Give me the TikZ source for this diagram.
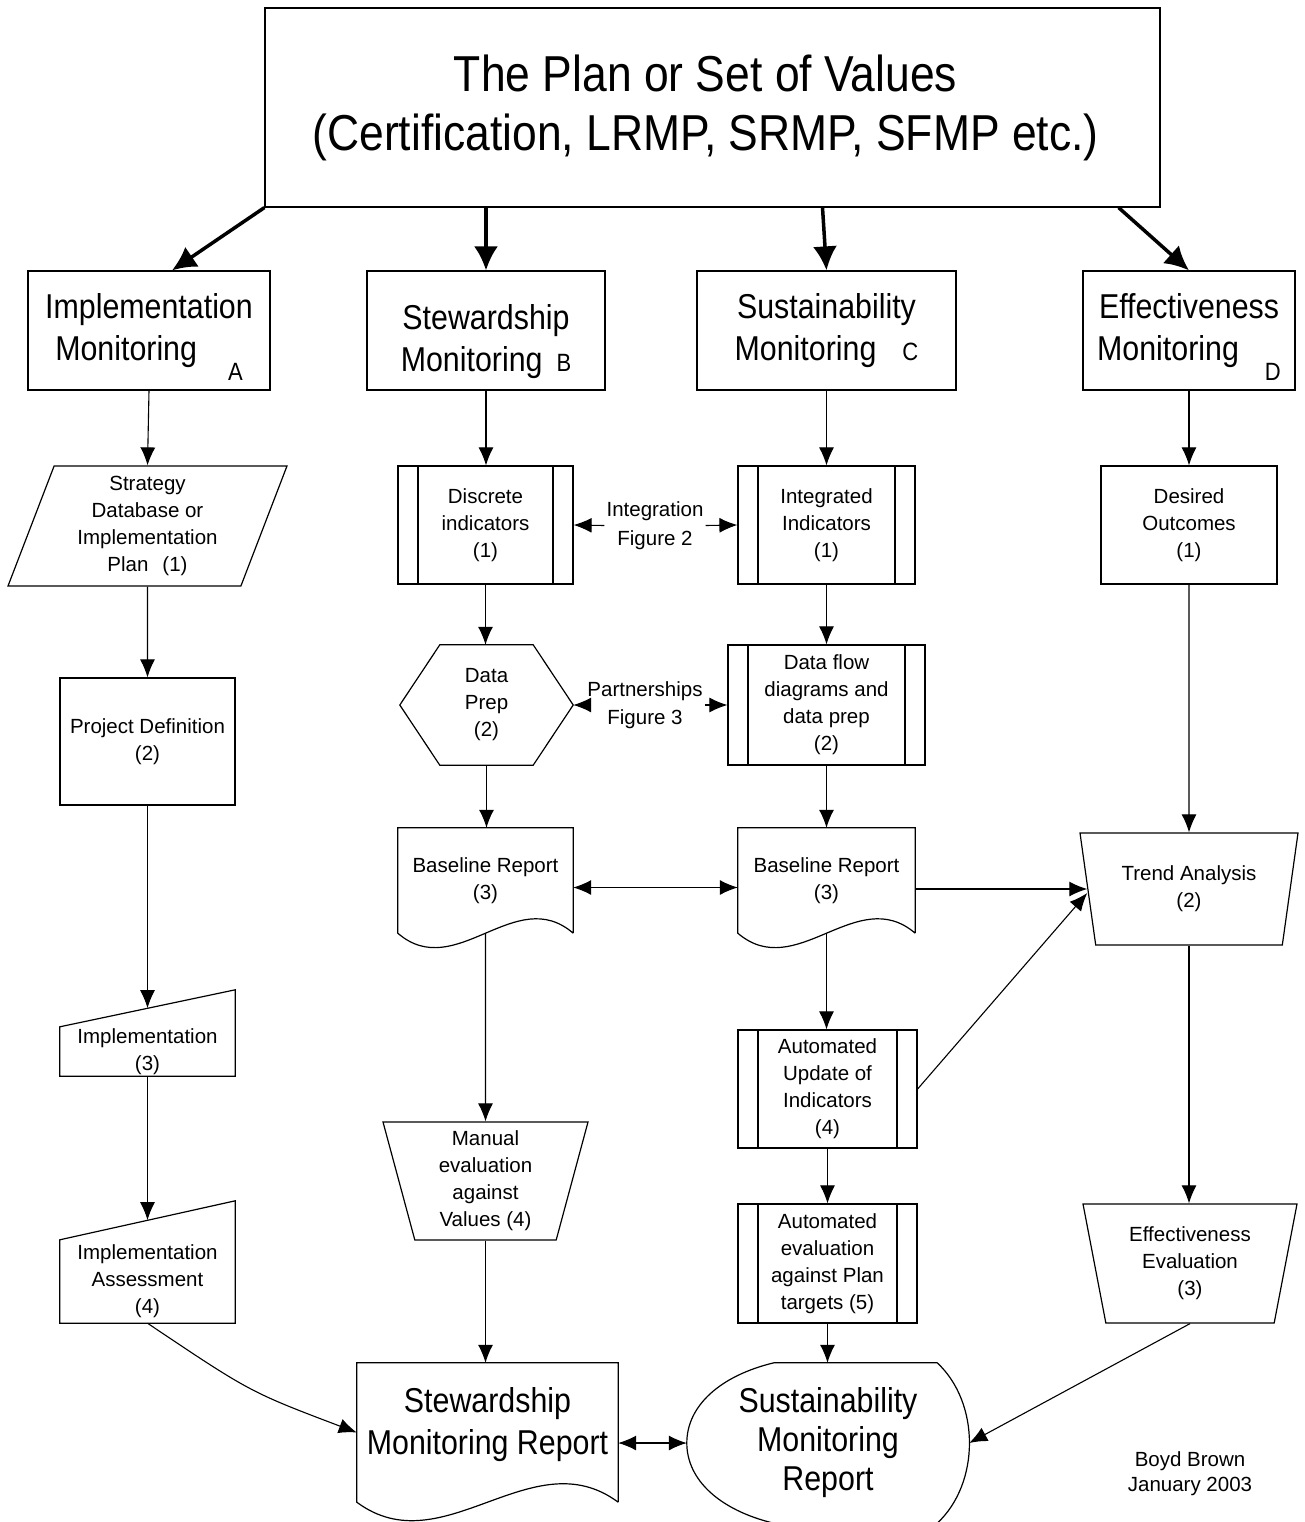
\documentclass[tikz,border=0pt]{standalone}
\usepackage{fontspec}
\setmainfont{Liberation Sans}
\newfontfamily\narrowfont{Liberation Sans}[FakeStretch=0.88]
\usetikzlibrary{arrows.meta,shapes.geometric,calc,positioning}
\newcommand{\smalltxt}{\fontsize{20.5}{27}\selectfont}
\newcommand{\headtxt}{\narrowfont\fontsize{34.5}{42}\selectfont}
\newcommand{\titletxt}{\narrowfont\fontsize{50.5}{59}\selectfont}
\newcommand{\tagtxt}{\narrowfont\fontsize{25}{25}\selectfont}
% document symbol with a wavy bottom edge
\newcommand{\docoutline}[2]{\draw[outl] (#1.south east) -- (#1.north east) -- (#1.north west) -- (#1.south west)
  .. controls ($(#1.south west)!0.33!(#1.south east)+(0,#2)$) and ($(#1.south west)!0.67!(#1.south east)+(0,-#2)$) .. (#1.south east);}
% manual input symbol, top edge rising to the right
\newcommand{\manualin}[2]{\draw[outl] (#1.south west) -- (#1.north west) -- ([yshift=#2]#1.north east) -- (#1.south east) -- cycle;}
\tikzset{
  outl/.style={line width=1.2pt,line join=miter},
  conn/.style={line width=1.1pt,-{Latex[length=18pt,width=15pt]}},
  dblconn/.style={line width=1.1pt,{Latex[length=18pt,width=15pt]}-{Latex[length=18pt,width=15pt]}},
  bigconn/.style={line width=3.5pt,-{Latex[length=24pt,width=24pt]}},
  box/.style={draw,outl,align=center,font=\smalltxt,inner sep=2pt},
  headbox/.style={draw,outl,align=center,font=\headtxt,minimum height=119},
  predef/.style={box,path picture={
      \draw[outl] ([xshift=20pt]path picture bounding box.north west) -- ([xshift=20pt]path picture bounding box.south west);
      \draw[outl] ([xshift=-20pt]path picture bounding box.north east) -- ([xshift=-20pt]path picture bounding box.south east);}},
  manop/.style={box,trapezium,shape border rotate=180,trapezium stretches body},
  bare/.style={align=center,font=\smalltxt,inner sep=0pt},
}
\begin{document}
\begin{tikzpicture}[x=1pt,y=-1pt]
\clip (0,0) rectangle (1305,1522);
\fill[white] (0,0) rectangle (1305,1522);

% top
\node[draw,outl,align=center,font=\titletxt,minimum width=895,minimum height=199] (plan) at (712.5,107.5)
  {The Plan or Set of Values\hspace*{14pt}\\(Certification, LRMP, SRMP, SFMP etc.)\hspace*{14pt}};

% the four kinds of monitoring
\node[headbox,minimum width=242] (implmon) at (149,330.5)
  {Implementation\\Monitoring\hspace{31pt}\raisebox{-20pt}[0pt][0pt]{\tagtxt A}};
\node[headbox,minimum width=238] (stewmon) at (486,330.5)
  {\rule{0pt}{47pt}Stewardship\\Monitoring\hspace{14pt}{\tagtxt B}};
\node[headbox,minimum width=259] (sustmon) at (826.5,330.5)
  {Sustainability\\Monitoring\hspace{26pt}{\tagtxt C}};
\node[headbox,minimum width=212] (effmon) at (1189,330.5)
  {Effectiveness\\Monitoring\hspace{26pt}\raisebox{-20pt}[0pt][0pt]{\tagtxt D}};

\draw[bigconn] (plan.south west) -- ([xshift=23pt]implmon.north);
\draw[bigconn] (stewmon.north |- plan.south) -- (stewmon.north);
\draw[bigconn] ([xshift=110pt]plan.south) -- (sustmon.north);
\draw[bigconn] ([xshift=-42pt]plan.south east) -- (effmon.north);

% column A
\node[box,trapezium,trapezium left angle=66,trapezium right angle=114,trapezium stretches body,
  minimum width=279,minimum height=120] (strat) at (147.5,526)
  {Strategy\\Database or\\Implementation\\Plan\hspace{14pt}(1)};
\node[box,minimum width=175,minimum height=127] (projdef) at (147.5,741.5) {Project Definition\\(2)};
\node[bare,minimum width=175,minimum height=49] (impl) at (147.5,1051.5) {Implementation\\(3)};
\manualin{impl}{37pt}
\node[bare,minimum width=175,minimum height=83] (impass) at (147.5,1281.5)
  {Implementation\\Assessment\\(4)};
\manualin{impass}{39pt}

\draw[conn] (implmon.south) -- (strat.north);
\draw[conn] (strat.south) -- (projdef.north);
\draw[conn] (projdef.south) -- ([yshift=18.6pt]impl.north);
\draw[conn] (impl.south) -- ([yshift=19.6pt]impass.north);

% column B
\node[predef,minimum width=175,minimum height=118] (discrete) at (485.5,525) {Discrete\\indicators\\(1)};
\node[bare,minimum width=173,minimum height=120] (prep) at (486.5,705) {Data\\Prep\\(2)};
\draw[outl] (prep.west) -- ([xshift=40pt]prep.north west) -- ([xshift=-40pt]prep.north east) -- (prep.east)
  -- ([xshift=-40pt]prep.south east) -- ([xshift=40pt]prep.south west) -- cycle;
\node[bare,minimum width=175,minimum height=105] (baseB) at (485.5,880.5) {Baseline Report\\(3)};
\docoutline{baseB}{50}
\node[manop,trapezium angle=73,minimum width=205,minimum height=118] (manB) at (485.5,1181)
  {Manual\\evaluation\\against\\Values (4)};
\node[bare,font=\headtxt,minimum width=261,minimum height=139] (stewrep) at (487.5,1432.5)
  {Stewardship\\Monitoring Report\rule[-24pt]{0pt}{24pt}};
\docoutline{stewrep}{64}

\draw[conn] (stewmon.south) -- (stewmon.south |- discrete.north);
\draw[conn] (discrete.south) -- (discrete.south |- prep.north);
\draw[conn] (prep.south) -- (prep.south |- baseB.north);
\draw[conn] (baseB.south) -- (manB.north);
\draw[conn] (manB.south) -- (manB.south |- stewrep.north);
\draw[conn] (impass.south) .. controls (250,1392) .. (stewrep.west);

% column C
\node[predef,minimum width=177,minimum height=118] (integ) at (826.5,525) {Integrated\\Indicators\\(1)};
\node[predef,minimum width=197,minimum height=120] (flow) at (826.5,705)
  {Data flow\\diagrams and\\data prep\\(2)};
\node[bare,minimum width=177,minimum height=105] (baseC) at (826.5,880.5) {Baseline Report\\(3)};
\docoutline{baseC}{50}
\node[predef,minimum width=179,minimum height=118] (autoupd) at (827.5,1089)
  {Automated\\Update of\\Indicators\\(4)};
\node[predef,minimum width=179,minimum height=119] (autoev) at (827.5,1263.5)
  {Automated\\evaluation\\against Plan\\targets (5)};
\node[bare,font=\narrowfont\fontsize{34.5}{39}\selectfont,minimum width=282,minimum height=160] (sustrep) at (828,1443)
  {Sustainability\\Monitoring\\Report};
\draw[outl] ([xshift=87pt]sustrep.north west) -- ([xshift=-32pt]sustrep.north east)
  .. controls ([xshift=11pt,yshift=-40pt]sustrep.north east) and ([xshift=11pt,yshift=40pt]sustrep.south east)
  .. ([xshift=-32pt]sustrep.south east) -- ([xshift=87pt]sustrep.south west)
  .. controls ([xshift=33pt,yshift=13pt]sustrep.south west) and ([yshift=-37pt]sustrep.west) .. (sustrep.west)
  .. controls ([yshift=37pt]sustrep.west) and ([xshift=33pt,yshift=-13pt]sustrep.north west)
  .. ([xshift=87pt]sustrep.north west) -- cycle;

\draw[conn] (sustmon.south) -- (integ.north);
\draw[conn] (integ.south) -- (flow.north);
\draw[conn] (flow.south) -- (baseC.north);
\draw[conn] (baseC.south) -- (baseC.south |- autoupd.north);
\draw[conn] (autoupd.south) -- (autoev.north);
\draw[conn] (autoev.south) -- (autoev.south |- sustrep.north);

% column D
\node[box,minimum width=176,minimum height=118] (desired) at (1189,525) {Desired\\Outcomes\\(1)};
\node[manop,trapezium angle=72.6,minimum width=218,minimum height=112] (trend) at (1189,889)
  {Trend Analysis\\(2)};
\node[manop,trapezium angle=73.5,minimum width=214,minimum height=119] (effev) at (1190,1263.5)
  {Effectiveness\\Evaluation\\(3)};

\draw[conn] (effmon.south) -- (desired.north);
\draw[conn] (desired.south) -- (trend.north);
\draw[conn] (trend.south) -- (trend.south |- effev.north);
\draw[conn] (effev.south) -- (sustrep.east);
\draw[conn] (baseC.east |- trend.west) -- (trend.west);
\draw[conn] (autoupd.east) -- ([yshift=-4pt]trend.west);

% links between the columns
\node[bare,font=\fontsize{20.5}{29}\selectfont,inner xsep=2pt] (intlab) at (655,525.5) {Integration\\Figure 2};
\draw[conn] (intlab.west) -- (discrete.east);
\draw[conn] (intlab.east) -- (integ.west);
\node[bare,font=\fontsize{20.5}{28}\selectfont,inner xsep=2pt] (partlab) at (645,705) {Partnerships\\Figure 3};
\draw[conn] (partlab.west) -- (prep.east);
\draw[conn] (partlab.east) -- (flow.west);
\draw[dblconn] ([yshift=-7pt]baseB.east) -- ([yshift=-7pt]baseC.west);
\draw[dblconn] (stewrep.east |- sustrep.west) -- (sustrep.west);

\node[bare,font=\fontsize{20.5}{25}\selectfont] (sign) at (1190,1473.5) {Boyd Brown\\January 2003};
\end{tikzpicture}
\end{document}
